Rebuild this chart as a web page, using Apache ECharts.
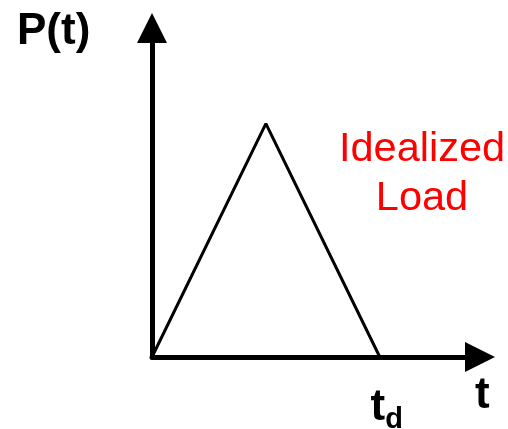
<!DOCTYPE html>
<html lang="en">
<head>
    <meta charset="UTF-8">
    <title>Idealized Load</title>
    <script type="text/javascript" src="https://cdn.jsdelivr.net/npm/echarts@6/dist/echarts.min.js"></script>
    <style>
        html, body { margin: 0; padding: 0; background: #fff; }
    </style>
</head>
<body>
<div id="main" style="width: 508px;height:429px;"></div>

<script type="text/javascript">
    // triangular pulse: time in units of td, load in units of the peak
    var timeValues = [0, 0.5, 1];
    var loadValues = [0, 1, 0];
    var tickLabels = { 1: 'td' };   // only td gets a label on the t axis

    var points = [];
    for (var i = 0; i < timeValues.length; i++) {
        points.push([timeValues[i], loadValues[i]]);
    }

    var myChart = echarts.init(document.getElementById('main'));
    myChart.setOption({
        animation: false,
        grid: {
            left: 152,
            right: 28,
            top: 28,
            bottom: 72,
            outerBoundsMode: 'none'
        },
        xAxis: {
            type: 'value',
            min: 0,
            max: 1.44,
            interval: 0.5,
            splitLine: { show: false },
            axisTick: { show: false },
            axisLine: {
                onZero: false,
                symbol: ['none', 'triangle'],
                symbolSize: [30, 30],
                lineStyle: { color: '#000', width: 5 }
            },
            axisLabel: {
                margin: 24,
                showMinLabel: true,
                showMaxLabel: false,
                padding: [0, 0, 0, 14],
                formatter: function (v) {
                    return tickLabels[v] ? '{t|t}{d|d}' : '';
                },
                rich: {
                    t: { fontFamily: 'Liberation Sans', fontWeight: 'bold', fontSize: 44, color: '#000' },
                    d: { fontFamily: 'Liberation Sans', fontWeight: 'bold', fontSize: 29, color: '#000', padding: [24, 0, 0, 0] }
                }
            }
        },
        yAxis: {
            type: 'value',
            min: 0,
            max: 1.41,
            splitLine: { show: false },
            axisTick: { show: false },
            axisLabel: { show: false },
            axisLine: {
                onZero: false,
                symbol: ['none', 'triangle'],
                symbolSize: [30, 30],
                lineStyle: { color: '#000', width: 5 }
            }
        },
        series: [{
            name: 'P(t)',
            type: 'line',
            data: points,
            symbol: 'none',
            lineStyle: { color: '#000', width: 3 },
            z: 1
        }],
        graphic: [
            {
                type: 'text',
                style: { x: 17, y: 10, text: 'P(t)', font: 'bold 44px "Liberation Sans"', fill: '#000' }
            },
            {
                type: 'text',
                style: { x: 475, y: 374, text: 't', font: 'bold 44px "Liberation Sans"', fill: '#000' }
            },
            {
                type: 'text',
                style: { x: 422, y: 150, text: 'Idealized', font: '41.5px "Liberation Sans"', fill: '#ff0000', align: 'center', verticalAlign: 'middle' }
            },
            {
                type: 'text',
                style: { x: 422, y: 199, text: 'Load', font: '41.5px "Liberation Sans"', fill: '#ff0000', align: 'center', verticalAlign: 'middle' }
            }
        ]
    });
</script>
</body>
</html>
